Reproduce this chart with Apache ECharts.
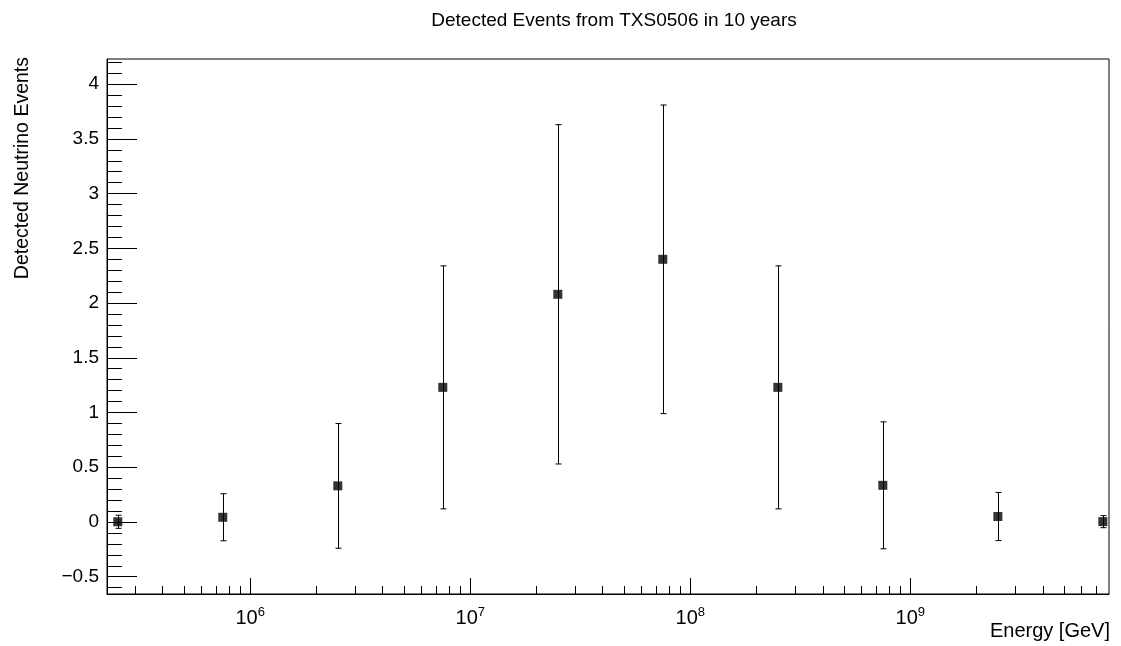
<!DOCTYPE html>
<html>
<head>
<meta charset="utf-8">
<script src="https://cdn.jsdelivr.net/npm/echarts@6/dist/echarts.min.js"></script>
<style>
  html, body { margin: 0; padding: 0; background: #fff; }
  #chart { width: 1121px; height: 646px; }
</style>
</head>
<body>
<div id="chart"></div>
<script>
// energy bin centres [GeV]
const energies = [2.5e5, 7.5e5, 2.5e6, 7.5e6, 2.5e7, 7.5e7, 2.5e8, 7.5e8, 2.5e9, 7.5e9];
// detected events and their errors
const events = [0.002, 0.043, 0.33, 1.23, 2.08, 2.40, 1.23, 0.335, 0.05, 0.003];
const errors = [0.06, 0.215, 0.57, 1.11, 1.55, 1.41, 1.11, 0.58, 0.22, 0.055];

const xDecades = [6, 7, 8, 9];
const yMajor = [-0.5, 0, 0.5, 1, 1.5, 2, 2.5, 3, 3.5, 4];

const xMin = 5.349, xMax = 9.903;
const yMin = -0.658, yMax = 4.23;

// minor ticks: 2..9 x 10^n on log scale, 0.1 steps on y
const xMinor = [];
for (let d = 5; d <= 9; d++) {
  for (let m = 2; m <= 9; m++) {
    const v = d + Math.log10(m);
    if (v > xMin && v < xMax) xMinor.push(v);
  }
}
const yMinor = [];
for (let i = -6; i <= 42; i++) yMinor.push(i / 10);

const font = 'Liberation Sans, Arial, Helvetica, sans-serif';

const points = energies.map((e, i) => [Math.log10(e), events[i]]);
const bars = energies.map((e, i) => [Math.log10(e), events[i] - errors[i], events[i] + errors[i]]);

const chart = echarts.init(document.getElementById('chart'));
chart.setOption({
  animation: false,
  title: {
    text: 'Detected Events from TXS0506 in 10 years',
    left: 609, top: 6, textAlign: 'center',
    textStyle: { fontFamily: font, fontSize: 19, fontWeight: 'normal', color: '#000' }
  },
  grid: {
    left: 107, top: 59, right: 12, bottom: 52,
    show: true, borderColor: '#000', borderWidth: 1
  },
  xAxis: [
    {
      type: 'value', min: xMin, max: xMax,
      axisLine: { show: true, onZero: false, lineStyle: { color: '#000' } },
      splitLine: { show: false },
      axisTick: { show: true, inside: true, length: 16, customValues: xDecades, lineStyle: { color: '#000' } },
      axisLabel: {
        show: true, margin: 12, customValues: xDecades,
        formatter: v => '{b|10}{s|' + Math.round(v) + '}',
        rich: {
          b: { fontFamily: font, fontSize: 20, color: '#000' },
          s: { fontFamily: font, fontSize: 13, color: '#000', padding: [0, 0, 12, 0] }
        }
      }
    },
    {
      type: 'value', min: xMin, max: xMax, position: 'bottom',
      axisLine: { show: false, onZero: false },
      splitLine: { show: false },
      axisTick: { show: true, inside: true, length: 8, customValues: xMinor, lineStyle: { color: '#000' } },
      axisLabel: { show: false }
    }
  ],
  yAxis: [
    {
      type: 'value', min: yMin, max: yMax,
      axisLine: { show: true, onZero: false, lineStyle: { color: '#000' } },
      splitLine: { show: false },
      axisTick: { show: true, inside: true, length: 30, customValues: yMajor, lineStyle: { color: '#000' } },
      axisLabel: {
        show: true, margin: 8, customValues: yMajor,
        fontFamily: font, fontSize: 19, color: '#000',
        formatter: v => (v < 0 ? '\u2212' + String(-v) : String(v))
      }
    },
    {
      type: 'value', min: yMin, max: yMax, position: 'left',
      axisLine: { show: false, onZero: false },
      splitLine: { show: false },
      axisTick: { show: true, inside: true, length: 15, customValues: yMinor, lineStyle: { color: '#000' } },
      axisLabel: { show: false }
    }
  ],
  graphic: [
    {
      type: 'text', x: 23, y: 57, rotation: Math.PI / 2,
      style: { text: 'Detected Neutrino Events', fontFamily: font, fontSize: 19.5, fill: '#000', align: 'right', verticalAlign: 'middle' }
    },
    {
      type: 'text', x: 1110, y: 631,
      style: { text: 'Energy [GeV]', fontFamily: font, fontSize: 20, fill: '#000', align: 'right', verticalAlign: 'middle' }
    }
  ],
  series: [
    {
      type: 'custom',
      xAxisIndex: 0, yAxisIndex: 0,
      data: bars,
      renderItem: (params, api) => {
        const lo = api.coord([api.value(0), api.value(1)]);
        const hi = api.coord([api.value(0), api.value(2)]);
        const x = Math.round(lo[0]) + 0.5;
        const st = { stroke: '#000', lineWidth: 1 };
        return {
          type: 'group',
          children: [
            { type: 'line', shape: { x1: x, y1: lo[1], x2: x, y2: hi[1] }, style: st },
            { type: 'line', shape: { x1: x - 3, y1: lo[1], x2: x + 3, y2: lo[1] }, style: st },
            { type: 'line', shape: { x1: x - 3, y1: hi[1], x2: x + 3, y2: hi[1] }, style: st }
          ]
        };
      },
      z: 2
    },
    {
      type: 'scatter',
      xAxisIndex: 0, yAxisIndex: 0,
      data: points,
      symbol: 'rect', symbolSize: 9,
      itemStyle: { color: '#000' },
      z: 3
    }
  ]
});
</script>
</body>
</html>
